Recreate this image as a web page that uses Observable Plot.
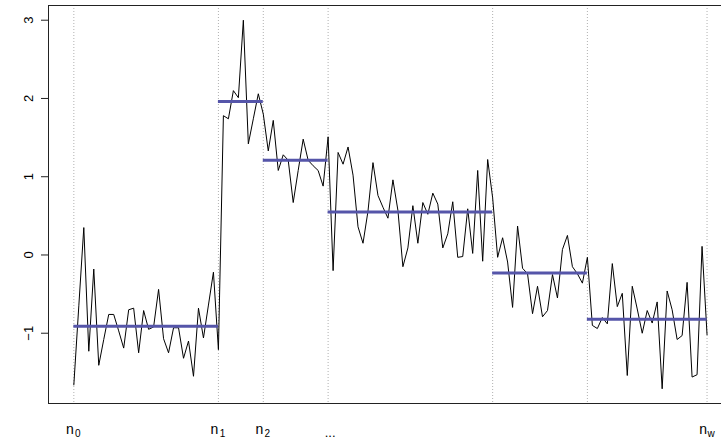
<!DOCTYPE html>
<html>
<head>
<meta charset="utf-8">
<script src="https://cdn.jsdelivr.net/npm/d3@7"></script>
<script src="https://cdn.jsdelivr.net/npm/@observablehq/plot@0.6"></script>
<style>
  html, body { margin: 0; padding: 0; background: #fff; overflow: hidden; }
</style>
</head>
<body>
<div id="chart"></div>
<script>
// Observed series (one value per time step)
const values = [
  -1.66, -0.65, 0.35, -1.23, -0.18, -1.41, -1.08, -0.76, -0.76, -0.97,
  -1.19, -0.70, -0.68, -1.25, -0.71, -0.95, -0.92, -0.44, -1.07, -1.25,
  -0.93, -0.93, -1.32, -1.10, -1.55, -0.68, -1.06, -0.64, -0.22, -1.21,
  1.78, 1.74, 2.10, 2.01, 3.00, 1.42, 1.74, 2.06, 1.80, 1.33,
  1.72, 1.08, 1.28, 1.21, 0.67, 1.08, 1.48, 1.21, 1.14, 1.08,
  0.88, 1.51, -0.20, 1.31, 1.16, 1.38, 1.02, 0.36, 0.15, 0.56,
  1.18, 0.76, 0.61, 0.47, 0.96, 0.57, -0.15, 0.09, 0.63, 0.15,
  0.67, 0.52, 0.79, 0.65, 0.09, 0.27, 0.68, -0.03, -0.02, 0.59,
  0.02, 1.08, -0.08, 1.22, 0.73, -0.03, 0.22, -0.09, -0.67, 0.37,
  -0.17, -0.24, -0.75, -0.40, -0.79, -0.71, -0.25, -0.55, 0.07, 0.25,
  -0.15, -0.24, -0.36, -0.03, -0.90, -0.94, -0.80, -0.88, -0.11, -0.66,
  -0.49, -1.54, -0.40, -0.69, -1.00, -0.71, -0.87, -0.60, -1.71, -0.46,
  -0.70, -1.08, -1.03, -0.35, -1.56, -1.53, 0.11, -1.02
];
// Change points (indices) and segment means
const changePoints = [0, 29, 38, 51, 84, 103, 127];
const segmentMeans = [-0.91, 1.96, 1.21, 0.55, -0.23, -0.82];
// Axis ticks and labels
const yTicks = [-1, 0, 1, 2, 3];
const xLabelIdx = [0, 29, 38, 51, 127];
const xLabelBase = ["n", "n", "n", "...", "n"];
const xLabelSub = ["0", "1", "2", "", "w"];

const xDomain = [-5.08, 129.9];
const yDomain = [-1.898, 3.188];

const series = values.map((v, i) => ({i, v}));
const segments = segmentMeans.map((m, k) => ({x1: changePoints[k], x2: changePoints[k + 1], m}));
const labels = xLabelIdx.map((idx, k) => ({idx, base: xLabelBase[k], sub: xLabelSub[k]}));
const subLabels = labels.filter(d => d.sub);
const plainLabels = labels.filter(d => !d.sub);

const blue = "#5555a9";

const chart = Plot.plot({
  width: 721,
  height: 441,
  marginLeft: 48,
  marginRight: 0,
  marginTop: 5,
  marginBottom: 38,
  style: {fontFamily: "'Liberation Sans', Arial, sans-serif", fontSize: "13px", background: "#fff", color: "#000"},
  x: {domain: xDomain, axis: null},
  y: {domain: yDomain, axis: null},
  marks: [
    Plot.ruleX(changePoints, {stroke: "#b0b0b0", strokeDasharray: "1,2"}),
    Plot.lineY(series, {x: "i", y: "v", stroke: "#000", strokeWidth: 1}),
    Plot.ruleY(segments, {x1: "x1", x2: "x2", y: "m", stroke: blue, strokeWidth: 3}),
    Plot.ruleY([yDomain[0], yDomain[1]], {stroke: "#222", strokeWidth: 1}),
    Plot.ruleX([xDomain[0]], {stroke: "#222", strokeWidth: 1}),
    Plot.axisY({ticks: yTicks, tickSize: 7, tickPadding: 9, tickRotate: -90, stroke: "#222",
      tickFormat: d => (d < 0 ? "−" : "") + Math.abs(d), fontSize: 13}),
    Plot.text(subLabels, {x: "idx", y: yDomain[0], dy: 26, dx: -4,
      text: "base", textAnchor: "middle", fontSize: 14, fill: "#000"}),
    Plot.text(subLabels, {x: "idx", y: yDomain[0], dy: 30, dx: 4,
      text: "sub", textAnchor: "middle", fontSize: 10, fill: "#000"}),
    Plot.text(plainLabels, {x: "idx", y: yDomain[0], dy: 29, dx: 2,
      text: "base", textAnchor: "middle", fontSize: 13, fill: "#000"})
  ]
});
document.getElementById("chart").appendChild(chart);
</script>
</body>
</html>
